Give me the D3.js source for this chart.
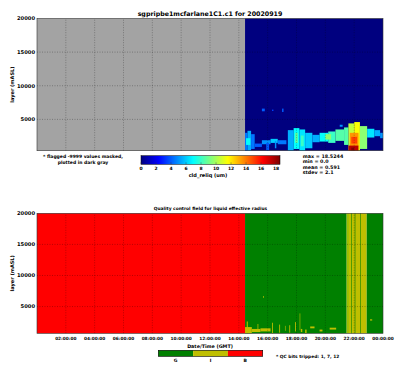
<!DOCTYPE html>
<html lang="en">
<head>
<meta charset="UTF-8">
<title>sgpripbe1mcfarlane1C1.c1</title>
<script src="https://cdn.jsdelivr.net/npm/d3@7"></script>
<style>
    body { margin: 0; background: #fff; }
    svg text { font-family: "DejaVu Sans", sans-serif; font-weight: bold; fill: #000; }
</style>
</head>
<body>
<div id="chart"></div>
<script>
// ---- data ----
const hourTicks = [2, 4, 6, 8, 10, 12, 14, 16, 18, 20, 22, 24];
const heightTicks = [5000, 10000, 15000, 20000];
const flagEnd = 14.43;   // everything before this time is -9999 (masked)

// cloud patches of cld_reliq: [t0 (h), t1 (h), zBottom (m), zTop (m), value (um)]
const cloudPatches = [
    [14.43, 14.60, 340, 3000, 4.5], [14.60, 14.85, 340, 3300, 5.5], [14.85, 15.10, 600, 2800, 4.5],
    [14.50, 14.80, 1200, 2200, 7],
    [15.10, 15.60, 900, 1400, 4], [15.60, 16.20, 1300, 1900, 5], [16.20, 16.70, 1500, 2100, 6],
    [16.70, 17.30, 1300, 1900, 4.5], [15.90, 16.10, 340, 1500, 4], [16.50, 16.60, 700, 1800, 5],
    [15.60, 15.80, 6200, 6600, 4], [16.30, 16.40, 6250, 6450, 3.5], [17.00, 17.10, 6100, 6600, 4],
    [17.40, 17.80, 340, 3400, 5.5], [17.80, 18.20, 600, 3700, 7], [18.20, 18.60, 340, 3500, 6.5],
    [18.60, 19.10, 700, 3000, 6], [17.90, 18.10, 1500, 3000, 8.5], [18.30, 18.50, 1000, 2600, 8],
    [19.10, 19.60, 1600, 2700, 5.5], [19.60, 20.20, 1700, 3000, 7], [20.20, 20.70, 1500, 3200, 8],
    [20.70, 21.30, 1800, 3500, 8.5], [20.00, 20.40, 2000, 2800, 9.5], [21.00, 21.20, 3900, 4200, 5],
    [21.30, 21.60, 1200, 3800, 8.5], [21.60, 22.00, 340, 4400, 10.5], [22.00, 22.40, 340, 4600, 11.5],
    [22.40, 22.90, 600, 4000, 9.5], [21.70, 22.30, 1000, 3000, 13.5], [21.80, 22.20, 1400, 2400, 15],
    [21.60, 22.30, 340, 1100, 17.5], [21.80, 22.00, 400, 800, 18.5],
    [22.90, 23.40, 2300, 3600, 6.5], [23.40, 23.80, 2500, 3400, 5.5], [23.80, 24.00, 2200, 3000, 5]
];
const stats = ["max = 18.5244", "min = 0.0", "mean = 0.591", "stdev = 2.1"];
const valueMax = 18.5244;
const colorbarTicks = [0, 2, 4, 6, 8, 10, 12, 14, 16, 18];

// QC field: full-height time spans [t0, t1, flag]
const qcSpans = [
    [0, 14.43, "B"], [14.43, 21.48, "G"], [21.48, 21.64, "I2"], [21.64, 22.87, "I"], [22.87, 24, "G"],
    [21.81, 21.85, "G"], [22.04, 22.08, "G"], [22.43, 22.47, "G"]
];
// QC "I" specks near cloud edges: [t0, t1, zBottom, zTop]
const qcSpecks = [
    [14.43, 14.90, 700, 1700], [14.90, 15.50, 900, 1400], [15.50, 16.20, 1000, 1500],
    [14.55, 14.62, 700, 2600], [15.30, 15.35, 900, 2200], [16.30, 16.36, 700, 2400],
    [16.80, 16.86, 800, 2100], [17.50, 17.56, 800, 2000], [17.90, 17.96, 1000, 2500],
    [18.22, 18.26, 1200, 3900], [18.30, 18.40, 900, 1400], [18.60, 18.70, 700, 1300],
    [18.95, 19.25, 1500, 1800], [19.60, 19.80, 1000, 1300], [20.30, 20.75, 1300, 1600],
    [15.68, 15.73, 6400, 6700], [23.10, 23.25, 2750, 2950], [17.20, 17.24, 1100, 1900]
];
const qcLabels = ["G", "I", "B"];

// ---- layout ----
const W = 400, H = 371;
const svg = d3.select("#chart").append("svg").attr("width", W).attr("height", H);

const x = d3.scaleLinear().domain([0, 24]).range([37, 383]);
const y1 = d3.scaleLinear().domain([340, 20000]).range([150.7, 18.5]);
const y2 = d3.scaleLinear().domain([700, 20000]).range([333.3, 213.3]);

const jetColors = ["#00007f", "#0000ff", "#007fff", "#00ffff", "#7fff7f", "#ffff00", "#ff7f00", "#ff0000", "#7f0000"];
const jetPos = jetColors.map((c, i) => i / (jetColors.length - 1) * valueMax);
const jet = d3.scaleLinear().domain(jetPos).range(jetColors).clamp(true);
const qcColor = { G: "#008000", I: "#bfbf00", I2: "#9fbf00", B: "#ff0000" };

function drawGrid(g, yScale) {
    g.selectAll(".vg").data(hourTicks.slice(0, -1)).enter().append("line")
        .attr("x1", d => x(d)).attr("x2", d => x(d))
        .attr("y1", yScale.range()[0]).attr("y2", yScale.range()[1])
        .attr("stroke", "#000").attr("stroke-opacity", 0.55).attr("stroke-width", 0.5)
        .attr("stroke-dasharray", "1,1.5");
    g.selectAll(".hg").data(heightTicks.slice(0, -1)).enter().append("line")
        .attr("x1", x(0)).attr("x2", x(24))
        .attr("y1", d => yScale(d)).attr("y2", d => yScale(d))
        .attr("stroke", "#000").attr("stroke-opacity", 0.55).attr("stroke-width", 0.5)
        .attr("stroke-dasharray", "1,1.5");
}

function drawYAxis(g, yScale) {
    g.selectAll(".yt").data(heightTicks).enter().append("text")
        .attr("x", 35).attr("y", d => yScale(d) + 1.8)
        .attr("text-anchor", "end").attr("font-size", 5.2).text(d => d);
    const mid = (yScale.range()[0] + yScale.range()[1]) / 2;
    g.append("text")
        .attr("transform", `translate(13.5,${mid}) rotate(-90)`)
        .attr("text-anchor", "middle").attr("font-size", 5).text("layer (mASL)");
    g.append("rect")
        .attr("x", x(0)).attr("y", yScale.range()[1])
        .attr("width", x(24) - x(0)).attr("height", yScale.range()[0] - yScale.range()[1])
        .attr("fill", "none").attr("stroke", "#333").attr("stroke-width", 0.6);
}

// ---- top panel: cld_reliq ----
const topPanel = svg.append("g");
topPanel.append("rect")
    .attr("x", x(0)).attr("y", y1(20000))
    .attr("width", x(flagEnd) - x(0)).attr("height", y1(340) - y1(20000))
    .attr("fill", "#a3a3a3");
topPanel.append("rect")
    .attr("x", x(flagEnd)).attr("y", y1(20000))
    .attr("width", x(24) - x(flagEnd)).attr("height", y1(340) - y1(20000))
    .attr("fill", jet(0));
topPanel.selectAll(".cell").data(cloudPatches).enter().append("rect")
    .attr("x", d => x(d[0])).attr("width", d => x(d[1]) - x(d[0]))
    .attr("y", d => y1(d[3])).attr("height", d => y1(d[2]) - y1(d[3]))
    .attr("fill", d => jet(d[4]));
drawGrid(topPanel.append("g"), y1);
drawYAxis(topPanel, y1);

topPanel.append("text").attr("x", 210).attr("y", 15.5).attr("text-anchor", "middle")
    .attr("font-size", 6.3).text("sgpripbe1mcfarlane1C1.c1 for 20020919");

topPanel.append("text").attr("x", 83).attr("y", 158).attr("text-anchor", "middle")
    .attr("font-size", 4.5).text("* flagged -9999 values masked,");
topPanel.append("text").attr("x", 83).attr("y", 164).attr("text-anchor", "middle")
    .attr("font-size", 4.5).text("plotted in dark gray");

// colorbar
const cb = d3.scaleLinear().domain([0, valueMax]).range([141, 280]);
const grad = svg.append("defs").append("linearGradient").attr("id", "jetGrad");
jetPos.forEach((p, i) => grad.append("stop")
    .attr("offset", (p / valueMax * 100) + "%").attr("stop-color", jetColors[i]));
topPanel.append("rect").attr("x", cb(0)).attr("y", 155.7)
    .attr("width", cb(valueMax) - cb(0)).attr("height", 8.6)
    .attr("fill", "url(#jetGrad)").attr("stroke", "#000").attr("stroke-width", 0.5);
topPanel.selectAll(".cbt").data(colorbarTicks).enter().append("line")
    .attr("x1", d => cb(d)).attr("x2", d => cb(d))
    .attr("y1", 162.3).attr("y2", 164.3).attr("stroke", "#333").attr("stroke-width", 0.4);
topPanel.selectAll(".cbl").data(colorbarTicks).enter().append("text")
    .attr("x", d => cb(d)).attr("y", 170.2).attr("text-anchor", "middle")
    .attr("font-size", 4.5).text(d => d);
topPanel.append("text").attr("x", 208).attr("y", 176.5).attr("text-anchor", "middle")
    .attr("font-size", 5).text("cld_reliq (um)");

topPanel.selectAll(".st").data(stats).enter().append("text")
    .attr("x", 302.7).attr("y", (d, i) => 158 + i * 5.4)
    .attr("font-size", 4.8).text(d => d);

// ---- bottom panel: QC ----
const botPanel = svg.append("g");
botPanel.selectAll(".qc").data(qcSpans).enter().append("rect")
    .attr("x", d => x(d[0])).attr("width", d => x(d[1]) - x(d[0]))
    .attr("y", y2(20000)).attr("height", y2(700) - y2(20000))
    .attr("fill", d => qcColor[d[2]]);
botPanel.selectAll(".sp").data(qcSpecks).enter().append("rect")
    .attr("x", d => x(d[0])).attr("width", d => x(d[1]) - x(d[0]))
    .attr("y", d => y2(d[3])).attr("height", d => y2(d[2]) - y2(d[3]))
    .attr("fill", qcColor.I);
drawGrid(botPanel.append("g"), y2);
drawYAxis(botPanel, y2);

botPanel.append("text").attr("x", 210.5).attr("y", 210).attr("text-anchor", "middle")
    .attr("font-size", 4.4).text("Quality control field for liquid effective radius");

const fmt = h => String(h % 24).padStart(2, "0") + ":00:00";
botPanel.selectAll(".xt").data(hourTicks).enter().append("text")
    .attr("x", d => x(d)).attr("y", 340).attr("text-anchor", "middle")
    .attr("font-size", 4.3).text(fmt);
botPanel.append("text").attr("x", 210).attr("y", 347.6).attr("text-anchor", "middle")
    .attr("font-size", 4.8).text("Date/Time (GMT)");

// QC legend bar
const qx = d3.scaleBand().domain(qcLabels).range([158.3, 262.7]);
botPanel.selectAll(".qb").data(qcLabels).enter().append("rect")
    .attr("x", d => qx(d)).attr("y", 350.3).attr("width", qx.bandwidth()).attr("height", 6)
    .attr("fill", d => qcColor[d]);
botPanel.append("rect").attr("x", 158.3).attr("y", 350.3).attr("width", 104.4).attr("height", 6)
    .attr("fill", "none").attr("stroke", "#000").attr("stroke-width", 0.6);
botPanel.selectAll(".ql").data(qcLabels).enter().append("text")
    .attr("x", d => qx(d) + qx.bandwidth() / 2).attr("y", 362.2).attr("text-anchor", "middle")
    .attr("font-size", 4.5).text(d => d);
botPanel.append("text").attr("x", 276).attr("y", 358).attr("font-size", 4.4)
    .text("* QC bits tripped: 1, 7, 12");
</script>
</body>
</html>
